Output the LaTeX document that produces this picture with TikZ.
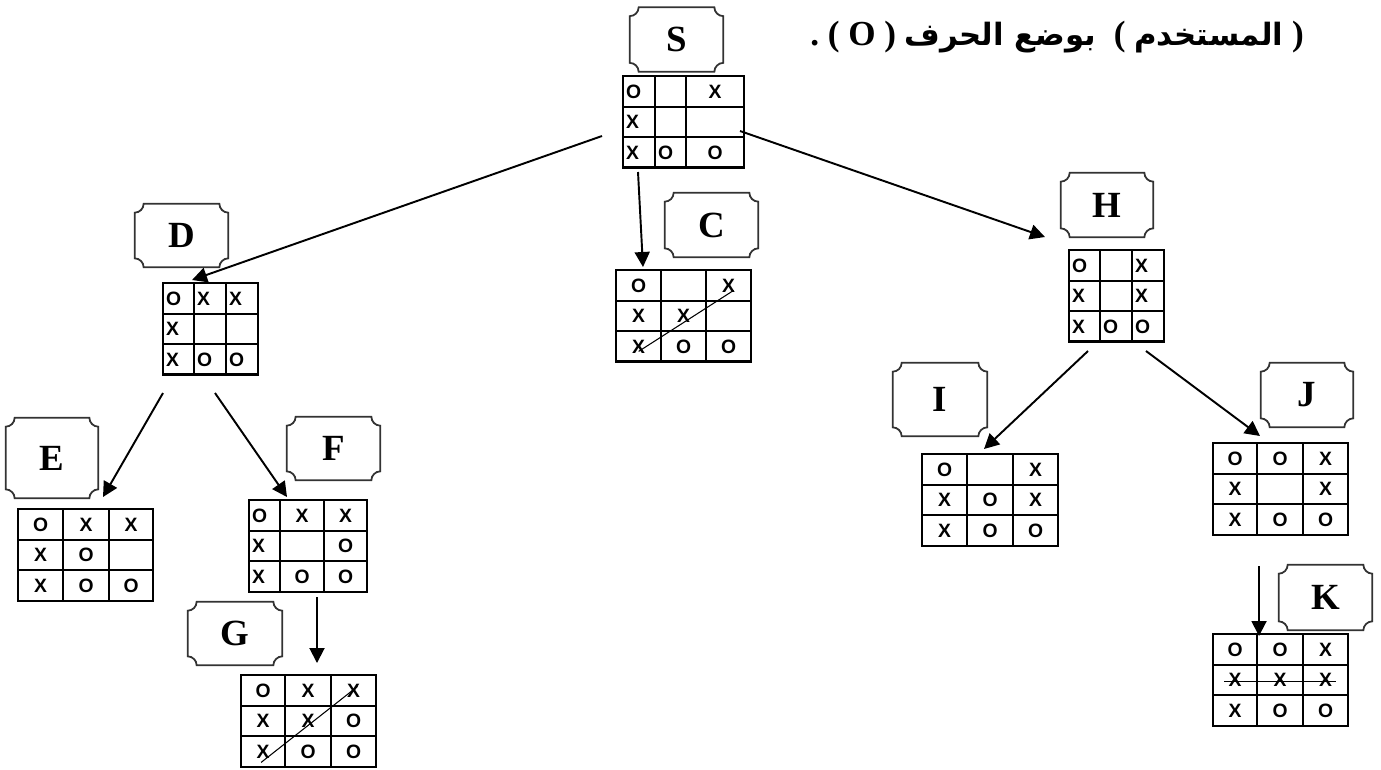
\documentclass[tikz,border=0pt]{standalone}
\usepackage{fontspec}
\setmainfont{Liberation Serif}
\newfontfamily\cellfont{Liberation Sans}
\newfontfamily\arabicfont[Script=Arabic]{DejaVu Sans}
\TeXXeTstate=1
\usetikzlibrary{arrows.meta, matrix, calc}

\tikzset{
  tag/.style={minimum width=1.86cm, minimum height=1.28cm, inner sep=0pt, font=\fontsize{21}{21}\selectfont\bfseries},
  tagline/.style={line width=1pt, draw=black!80},
  board/.style={matrix of nodes, nodes in empty cells, inner sep=0pt, outer sep=0pt, anchor=north west,
    column sep=-1.3pt, row sep=-1.3pt,
    nodes={draw, line width=1.3pt, anchor=center, minimum height=0.61cm, inner xsep=0.06cm, inner ysep=0pt,
      text height=0.27cm, text depth=0pt, font=\cellfont\fontsize{11}{11}\selectfont\bfseries}},
  lcol/.style={nodes={text width=#1, align=left}},
  ccol/.style={nodes={minimum width=#1}},
  move/.style={line width=1.1pt, -{Triangle[length=0.3cm, width=0.3cm]}},
  strike/.style={line width=0.6pt}
}

\begin{document}
\begin{tikzpicture}[x=0.02cm, y=0.02cm]
  \useasboundingbox (0,0) rectangle (1381,-769);

  % Heading
  \node[font=\fontsize{20}{20}\selectfont\bfseries] (title) at (1057,-37)
    {\beginR ) {\arabicfont\fontsize{17.5}{17.5}\selectfont المستخدم} (\enspace
     {\arabicfont\fontsize{17.5}{17.5}\selectfont بوضع الحرف} ) O ( .\endR};

  % Labels
  \node[tag] (tS) at (676.5,-39.5) {S};
  \node[tag] (tC) at (711.5,-225) {C};
  \node[tag, minimum height=1.26cm] (tD) at (181.5,-235.5) {D};
  \node[tag, minimum width=1.84cm, minimum height=1.6cm] (tE) at (52,-458) {E};
  \node[tag, minimum height=1.26cm] (tF) at (333.5,-448.5) {F};
  \node[tag, minimum width=1.88cm, minimum height=1.26cm] (tG) at (235,-633.5) {G};
  \node[tag, minimum width=1.84cm] (tH) at (1107,-205) {H};
  \node[tag, minimum width=1.88cm, minimum height=1.46cm] (tI) at (940,-399.5) {I};
  \node[tag, minimum width=1.84cm] (tJ) at (1307,-395) {J};
  \node[tag, minimum height=1.3cm] (tK) at (1325.5,-597.5) {K};

  \foreach \n in {S,C,D,E,F,G,H,I,J,K}
    \draw[tagline] ($(t\n.north west)+(9,0)$) -- ($(t\n.north east)+(-9,0)$)
      arc[start angle=180, end angle=270, radius=0.18cm] -- ($(t\n.south east)+(0,9)$)
      arc[start angle=90, end angle=180, radius=0.18cm] -- ($(t\n.south west)+(9,0)$)
      arc[start angle=0, end angle=90, radius=0.18cm] -- ($(t\n.north west)+(0,-9)$)
      arc[start angle=270, end angle=360, radius=0.18cm] -- cycle;

  % Boards
  \matrix[board, column 1/.style={lcol=0.52cm}, column 2/.style={lcol=0.5cm}, column 3/.style={ccol=1.16cm}]
    (bS) at (622,-75) {O & & X\\ X & & \\ X & O & O\\};
  \matrix[board, column 1/.style={ccol=0.9cm}, column 2/.style={ccol=0.9cm}, column 3/.style={ccol=0.9cm}]
    (bC) at (615,-269) {O & & X\\ X & X & \\ X & O & O\\};
  \matrix[board, column 1/.style={lcol=0.5cm}, column 2/.style={lcol=0.52cm}, column 3/.style={lcol=0.52cm}]
    (bD) at (162,-282) {O & X & X\\ X & & \\ X & O & O\\};
  \matrix[board, column 1/.style={ccol=0.9cm}, column 2/.style={ccol=0.92cm}, column 3/.style={ccol=0.88cm}]
    (bE) at (17,-508) {O & X & X\\ X & O & \\ X & O & O\\};
  \matrix[board, column 1/.style={lcol=0.5cm}, column 2/.style={ccol=0.88cm}, column 3/.style={ccol=0.86cm}]
    (bF) at (248,-499) {O & X & X\\ X & & O\\ X & O & O\\};
  \matrix[board, column 1/.style={ccol=0.88cm}, column 2/.style={ccol=0.92cm}, column 3/.style={ccol=0.9cm}]
    (bG) at (240,-674) {O & X & X\\ X & X & O\\ X & O & O\\};
  \matrix[board, column 1/.style={lcol=0.5cm}, column 2/.style={lcol=0.52cm}, column 3/.style={lcol=0.52cm}]
    (bH) at (1068,-249) {O & & X\\ X & & X\\ X & O & O\\};
  \matrix[board, column 1/.style={ccol=0.9cm}, column 2/.style={ccol=0.92cm}, column 3/.style={ccol=0.9cm}]
    (bI) at (921,-453) {O & & X\\ X & O & X\\ X & O & O\\};
  \matrix[board, column 1/.style={ccol=0.88cm}, column 2/.style={ccol=0.92cm}, column 3/.style={ccol=0.9cm}]
    (bJ) at (1212,-442) {O & O & X\\ X & & X\\ X & O & O\\};
  \matrix[board, column 1/.style={ccol=0.88cm}, column 2/.style={ccol=0.92cm}, column 3/.style={ccol=0.9cm}]
    (bK) at (1212,-633) {O & O & X\\ X & X & X\\ X & O & O\\};

  % Winning lines
  \draw[strike] ($(bC-3-1.center)+(0,-5)$) -- ($(bC-1-3.center)+(5,-5)$);
  \draw[strike] ($(bG-3-1.center)+(-2,-11)$) -- ($(bG-1-3.center)+(4,4)$);
  \draw[strike] ($(bK-2-1.center)+(-11,-1.5)$) -- ($(bK-2-3.center)+(10.5,-1.5)$);

  % Moves
  \coordinate (sL) at (602,-136);  \coordinate (dIn) at (192,-280);
  \coordinate (sB) at (638,-172);  \coordinate (cIn) at (643,-267);
  \coordinate (sR) at (740,-131);  \coordinate (hIn) at (1045,-237);
  \coordinate (dL) at (163,-393);  \coordinate (eIn) at (103,-497);
  \coordinate (dR) at (215,-393);  \coordinate (fIn) at (287,-497);
  \coordinate (fB) at (317,-597);  \coordinate (gIn) at (317,-663);
  \coordinate (hL) at (1088,-351); \coordinate (iIn) at (984,-449);
  \coordinate (hR) at (1146,-351); \coordinate (jIn) at (1260,-436);
  \coordinate (jB) at (1259,-566); \coordinate (kIn) at (1259,-636);

  \draw[move] (sL) -- (dIn);
  \draw[move] (sB) -- (cIn);
  \draw[move] (sR) -- (hIn);
  \draw[move] (dL) -- (eIn);
  \draw[move] (dR) -- (fIn);
  \draw[move] (fB) -- (gIn);
  \draw[move] (hL) -- (iIn);
  \draw[move] (hR) -- (jIn);
  \draw[move] (jB) -- (kIn);
\end{tikzpicture}
\end{document}
